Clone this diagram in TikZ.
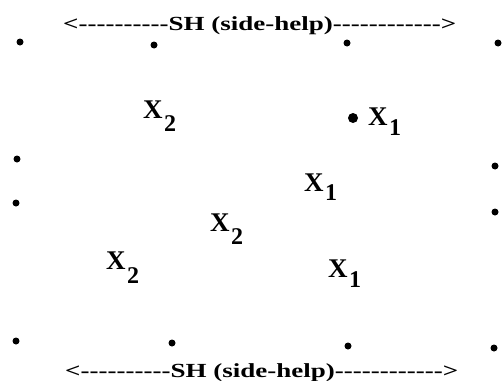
\documentclass[tikz,border=0pt]{standalone}
\usepackage{fontspec}
\setmainfont{Liberation Serif}
\usepackage{graphicx}
\usetikzlibrary{positioning}

\newcommand{\xsub}[2]{\textbf{X\kern1.5pt\raisebox{-#2pt}{\fontsize{24}{24}\selectfont #1}}}
\newcommand{\dashrun}[1]{\foreach\i in {1,...,#1}{-\kern0pt}}
\newcommand{\shline}{\resizebox{393pt}{\height}{\fontsize{20}{20}\selectfont\textbf{<\dashrun{10}SH (side-help)\dashrun{12}>}}}

\begin{document}
\begin{tikzpicture}[
    x=1pt,
    y=-1pt,
    dot/.style={
        circle,
        fill=black,
        inner sep=0pt,
        minimum size=7pt
      },
    bigdot/.style={dot,minimum size=10pt},
    xlabel/.style={
        anchor=base west,
        inner sep=0pt,
        font=\fontsize{27}{27}\selectfont
      },
    shtext/.style={anchor=base west,inner sep=0pt}
    ]

    \useasboundingbox (0,0) rectangle (502,380);

    % side-help lines
    \node[shtext] (shtop) at (63,30) {\shline};
    \node[shtext] (shbot) at (65,377) {\shline};

    % border points
    \node[dot] (t1) at (20,42) {};
    \node[dot] (t2) at (154,45) {};
    \node[dot] (t3) at (347,43) {};
    \node[dot] (t4) at (498,43) {};
    \node[dot] (l1) at (17,159) {};
    \node[dot] (l2) at (16,203) {};
    \node[dot] (r1) at (495,166) {};
    \node[dot] (r2) at (495,212) {};
    \node[dot] (b1) at (16,341) {};
    \node[dot] (b2) at (172,343) {};
    \node[dot] (b3) at (348,346) {};
    \node[dot] (b4) at (494,348) {};

    % labelled points
    \node[bigdot] (p) at (353,118) {};
    \node[xlabel] (xa) at (143,118) {\xsub{2}{13}};
    \node[xlabel] (xb) at (368,125) {\xsub{1}{10}};
    \node[xlabel] (xc) at (304,191) {\xsub{1}{9}};
    \node[xlabel] (xd) at (210,231) {\xsub{2}{13}};
    \node[xlabel] (xe) at (106,269) {\xsub{2}{14}};
    \node[xlabel] (xf) at (328,277) {\xsub{1}{10}};

  \end{tikzpicture}
\end{document}
